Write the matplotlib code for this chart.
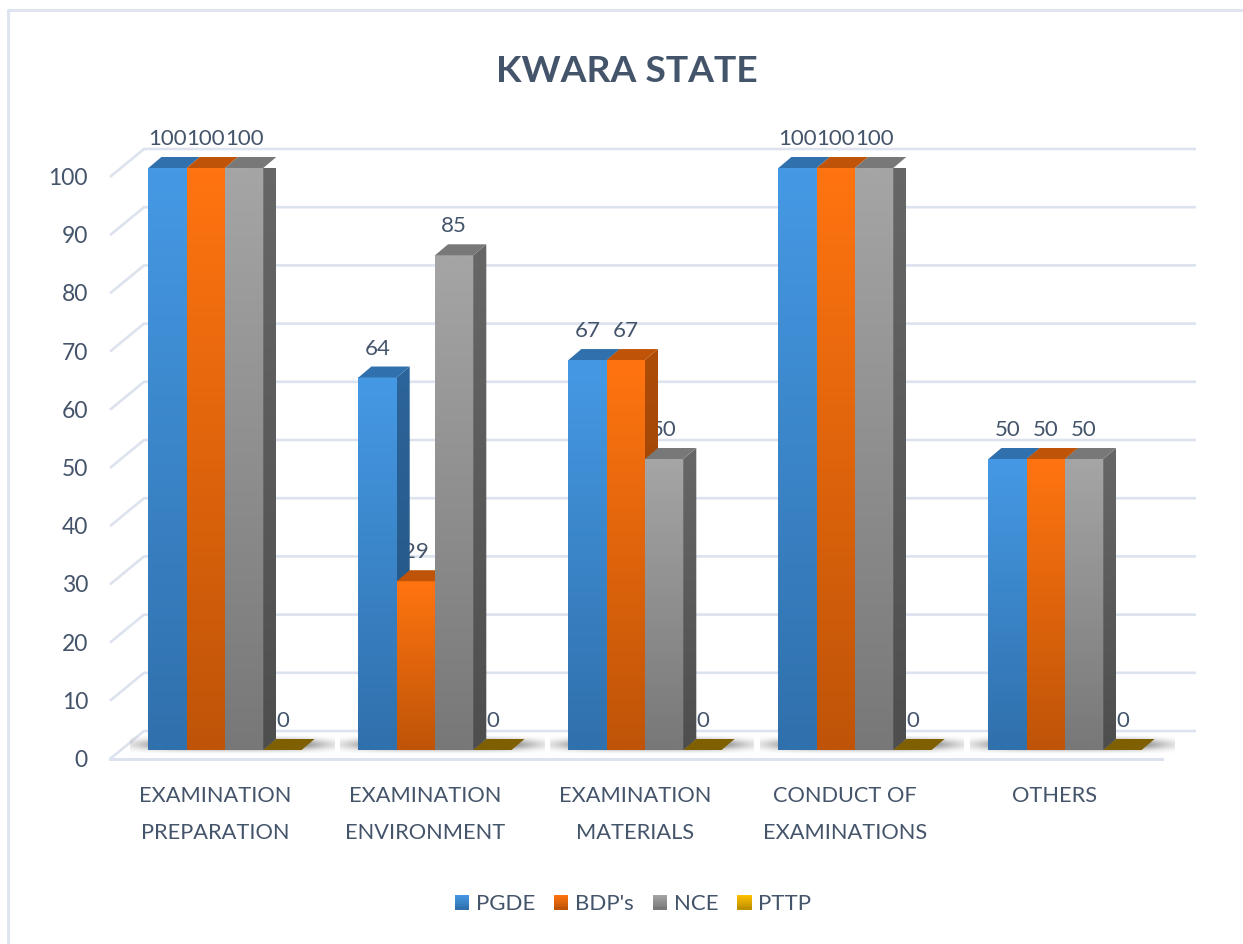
import numpy as np
import matplotlib
matplotlib.use('Agg')
import matplotlib.pyplot as plt
from matplotlib.lines import Line2D
from matplotlib.patches import Polygon, Patch, Rectangle
from matplotlib.legend_handler import HandlerBase
from matplotlib.colors import to_rgb

plt.rc('font', family='Lato', size=16)

categorie = ['EXAMINATION\nPREPARATION', 'EXAMINATION\nENVIRONMENT', 'EXAMINATION\nMATERIALS',
             'CONDUCT OF\nEXAMINATIONS', 'OTHERS']
pgde = [100, 64, 67, 100, 50]
bdp = [100, 29, 67, 100, 50]
nce = [100, 85, 50, 100, 50]
pttp = [0, 0, 0, 0, 0]
nomi_serie = ['PGDE', "BDP's", 'NCE', 'PTTP']
tick_y = [0, 10, 20, 30, 40, 50, 60, 70, 80, 90, 100]

### Colori: fronte alto, fronte basso, lato alto, lato basso, tetto
colori = [
    ('#4599E4', '#3070AC', '#2C659B', '#21517E', '#3070AC'),
    ('#FF7410', '#BF5408', '#AE4C07', '#8C3D05', '#BF5408'),
    ('#A5A5A5', '#787878', '#676767', '#4E4E4E', '#787878'),
    ('#FFC000', '#BF9000', '#7F6000', '#7F6000', '#7F6000'),
]
colore_testo = '#44546A'
colore_griglia = '#DDE3EE'

W, H = 1243, 944
px_x = 1 / 210        # un gruppo = 210 px
px_y = 100 / 582      # 100 unita = 582 px
larg = 38.3 * px_x
dx, dy = 13 * px_x, 11 * px_y

fig = plt.figure(figsize=(W / 100, H / 100), dpi=100, facecolor='white')
ax = fig.add_axes([120 / W, 1 - 750 / H, 1050 / W, 582 / H])
ax.set_facecolor('none')
ax.axis('off')


def gradiente(x0, x1, y0, y1, alto, basso, z, clip=None):
    t = np.linspace(0, 1, 64)[:, None, None]
    img = (1 - t) * np.array(to_rgb(alto)) + t * np.array(to_rgb(basso))
    im = ax.imshow(img, extent=(x0, x1, y0, y1), origin='upper', aspect='auto',
                   zorder=z, interpolation='bilinear')
    if clip is not None:
        im.set_clip_path(clip)
    else:
        im.set_clip_on(False)
    return im


### Griglia (parete di fondo + diagonali a sinistra)
x_sx_front = -0.5 - 10 * px_x
x_sx_back = x_sx_front + 34 * px_x
x_dx_back = x_sx_back + 1052 * px_x
off_back = 19 * px_y
off_front = -9 * px_y
for v in tick_y:
    ax.plot([x_sx_front, x_sx_back, x_dx_back], [v + off_front, v + off_back, v + off_back],
            color=colore_griglia, lw=1.9, clip_on=False, zorder=1, solid_capstyle='butt')
    ax.text(x_sx_front - 22 * px_x, v + 2 * px_y - 0.6 + off_front, str(v), ha='right', va='center',
            color=colore_testo, fontsize=16.5, clip_on=False)
ax.plot([x_sx_front, x_sx_front + 1052 * px_x], [off_front, off_front], color=colore_griglia,
        lw=2.2, clip_on=False, zorder=1)

### Ombra sul pavimento
gx = np.linspace(-1, 1, 200)
gy = np.linspace(-1, 1, 40)
ombra = np.zeros((40, 200, 4))
ombra[..., 3] = 0.62 * np.exp(-(np.abs(gx) / 0.88) ** 4)[None, :] * np.exp(-(gy / 0.62) ** 2)[:, None]

serie = [pgde, bdp, nce, pttp]
for i, nome in enumerate(categorie):
    x0 = i - 2 * larg
    ax.imshow(ombra, extent=(x0 - 18 * px_x, x0 + 186 * px_x, -3 * px_y, 14 * px_y),
              aspect='auto', zorder=2, clip_on=False, interpolation='bilinear')
    for j, valori in enumerate(serie):
        v = valori[i]
        xs = x0 + j * larg
        c_alto, c_basso, l_alto, l_basso, c_tetto = colori[j]
        ax.text(xs + larg / 2, v + 29 * px_y, str(v), ha='center', va='center',
                color=colore_testo, fontsize=16, zorder=3, clip_on=False)
        z = 4 + j
        if v > 0:
            gradiente(xs, xs + larg, 0, v, c_alto, c_basso, z)
            pts_lato = [(xs + larg, 0), (xs + larg + dx, dy), (xs + larg + dx, v + dy), (xs + larg, v)]
            lato = Polygon(pts_lato, closed=True, transform=ax.transData, facecolor='none', edgecolor='none')
            ax.add_patch(lato)
            gradiente(xs + larg, xs + larg + dx, 0, v + dy, l_alto, l_basso, z, clip=lato)
        ax.add_patch(Polygon([(xs, v), (xs + larg, v), (xs + larg + dx, v + dy), (xs + dx, v + dy)],
                             closed=True, facecolor=c_tetto, edgecolor='none', zorder=z, clip_on=False))
    ax.text(i - 10 * px_x, -36 * px_y, nome, ha='center', va='top', color=colore_testo,
            fontsize=15.7, linespacing=2.06, clip_on=False)

ax.set_xlim(-0.5, 4.5)
ax.set_ylim(0, 100)


class HandlerGradiente(HandlerBase):
    def create_artists(self, legend, orig_handle, xdescent, ydescent, width, height, fontsize, trans):
        alto, basso = orig_handle.colori
        out = []
        for k in range(8):
            t = k / 7
            col = (1 - t) * np.array(to_rgb(alto)) + t * np.array(to_rgb(basso))
            out.append(Rectangle((-xdescent, -ydescent + height * (7 - k) / 8), width, height / 8 + 0.2,
                                 facecolor=col, edgecolor='none', transform=trans))
        return out


handles = []
for j, nome in enumerate(nomi_serie):
    h = Patch(label=nome)
    h.colori = colori[j][:2]
    handles.append(h)

leg = fig.legend(handles=handles, loc='center', bbox_to_anchor=(633 / W, 1 - 904 / H), ncol=4, frameon=False,
                 handler_map={Patch: HandlerGradiente()}, handlelength=0.65, handleheight=0.65,
                 handletextpad=0.3, columnspacing=0.85, fontsize=16, labelcolor=colore_testo)

fig.text(627 / W, 1 - 71 / H, 'KWARA STATE', ha='center', va='center', color=colore_testo,
         fontsize=26.8, fontweight='bold')

### Cornice
fig.add_artist(Line2D([8 / W, 8 / W, 1], [0, 1 - 10 / H, 1 - 10 / H], color='#DFE5EE', lw=2.2))

plt.savefig('out.png', dpi=100)
plt.close()
